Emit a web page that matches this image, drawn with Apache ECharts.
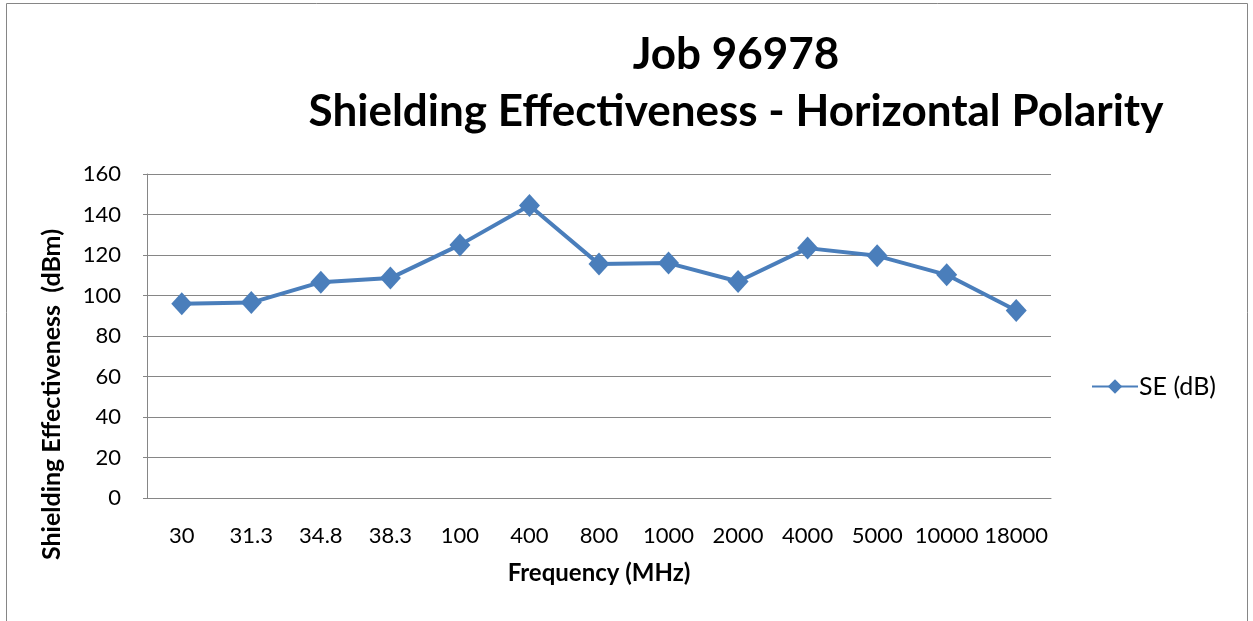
<!DOCTYPE html>
<html>
<head>
<meta charset="utf-8">
<script src="https://cdn.jsdelivr.net/npm/echarts@6/dist/echarts.min.js"></script>
<style>
  html, body { margin: 0; padding: 0; background: #fff; }
  #main { width: 1253px; height: 621px; }
</style>
</head>
<body>
<div id="main"></div>
<script>
// frequencies (MHz) on the category axis
var freqs = ['30', '31.3', '34.8', '38.3', '100', '400', '800', '1000', '2000', '4000', '5000', '10000', '18000'];
// shielding effectiveness values
var seValues = [95.9, 96.5, 106.6, 108.6, 125, 144.4, 115.5, 116, 106.9, 123.4, 119.6, 110.2, 92.6];
var yTicks = [0, 20, 40, 60, 80, 100, 120, 140, 160];

var font = 'Lato, "Open Sans", sans-serif';
var lineColor = '#4a7ebb';

var chart = echarts.init(document.getElementById('main'), null, { renderer: 'canvas' });

chart.setOption({
  animation: false,
  title: {
    text: 'Job 96978\nShielding Effectiveness - Horizontal Polarity',
    left: 731,
    top: 21,
    textAlign: 'center',
    textStyle: {
      fontFamily: font,
      fontWeight: 'bold',
      fontSize: 44,
      lineHeight: 57,
      color: '#000'
    }
  },
  legend: {
    left: 1086,
    top: 369,
    itemWidth: 46,
    itemHeight: 18,
    itemGap: 4,
    textStyle: { fontFamily: font, fontSize: 25, color: '#000', padding: [0, 0, 0, -4] },
    data: ['SE (dB)']
  },
  grid: {
    left: 147,
    right: 202,
    top: 174,
    bottom: 123
  },
  xAxis: {
    type: 'category',
    data: freqs,
    boundaryGap: true,
    name: 'Frequency (MHz)',
    nameLocation: 'middle',
    nameGap: 63,
    nameTextStyle: { fontFamily: font, fontWeight: 'bold', fontSize: 24, color: '#000' },
    axisLine: { lineStyle: { color: '#868686', width: 1 } },
    axisTick: { show: false },
    axisLabel: { fontFamily: font, fontSize: 22, color: '#000', margin: 27, interval: 0 }
  },
  yAxis: {
    type: 'value',
    min: 0,
    max: 160,
    interval: 20,
    axisLine: { show: true, lineStyle: { color: '#868686', width: 1 } },
    axisTick: { show: true, length: 4, lineStyle: { color: '#868686' } },
    axisLabel: {
      fontFamily: font, fontSize: 22, color: '#000', margin: 26,
      formatter: function (v) { return yTicks.indexOf(v) >= 0 ? String(v) : ''; }
    },
    splitLine: { lineStyle: { color: '#868686', width: 1 } }
  },
  graphic: [
    {
      type: 'rect',
      shape: { x: 6.5, y: 3.5, width: 1241, height: 640 },
      style: { fill: 'none', stroke: '#868686', lineWidth: 1 },
      silent: true
    },
    {
      type: 'text',
      left: 39,
      top: 229,
      rotation: Math.PI / 2,
      style: {
        text: 'Shielding Effectiveness  (dBm)',
        fontFamily: font,
        fontWeight: 'bold',
        fontSize: 25,
        fill: '#000'
      }
    }
  ],
  series: [
    {
      name: 'SE (dB)',
      type: 'line',
      data: seValues,
      symbol: 'diamond',
      symbolSize: [21, 23],
      itemStyle: { color: lineColor },
      lineStyle: { color: lineColor, width: 4 }
    }
  ]
});
</script>
</body>
</html>
